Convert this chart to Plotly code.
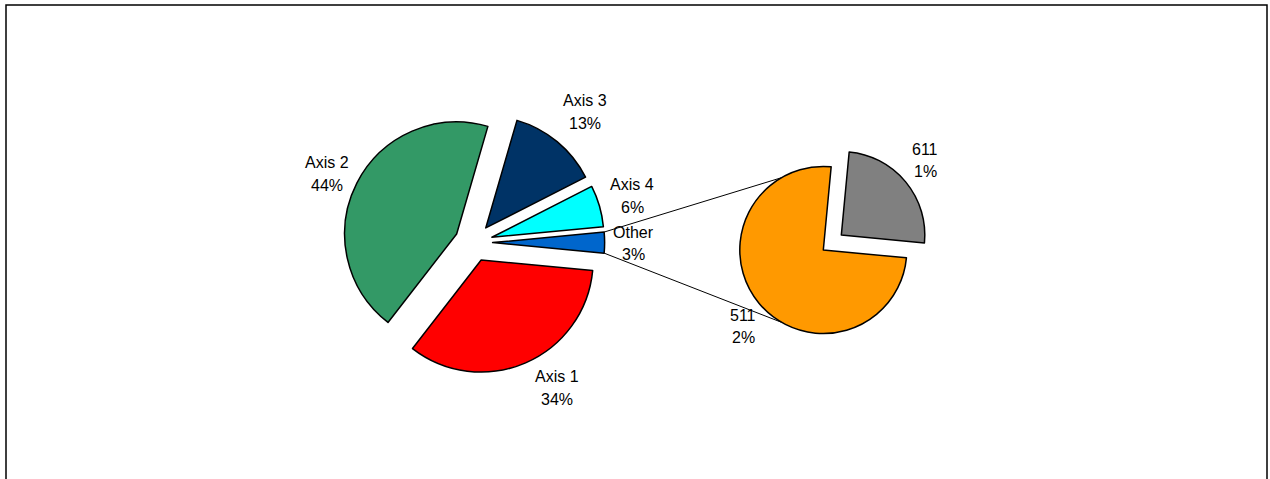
import math
import plotly.graph_objects as go

# ---- data ----
main_labels = ["Axis 1", "Axis 2", "Axis 3", "Axis 4"]
main_values = [34, 44, 13, 6]
other_label = "Other"
sub_labels = ["511", "611"]
sub_values = [2.25, 0.75]

main_colors = ["#FF0000", "#339966", "#003366", "#00FFFF", "#0066CC"]
sub_colors = ["#FF9900", "#808080"]

# ---- layout geometry (pixels) ----
W, H = 1270, 479
MAIN_C = (473.6, 242.6)
MAIN_R = 112.0
MAIN_PULL = 0.17
SUB_C = (823.3, 250.0)
SUB_R = 83.5
SUB_PULL = 0.28
FONT = dict(family="Arial, Liberation Sans, sans-serif", size=16, color="black")
LINE_GAP = 11.3
# small label placement nudges (px), mimicking the original label layout
LABEL_NUDGE = {"Axis 1": (18, -6), "Axis 2": (0.5, 6.5), "Axis 3": (6, -3.5),
               "Axis 4": (0, -0.5), "Other": (-5, 1), "611": (-2, -3.5), "511": (6, 5.5)}

other_value = sum(sub_values)
all_main_values = main_values + [other_value]
all_main_labels = main_labels + [other_label]
total = sum(all_main_values)
other_deg = other_value / total * 360.0
rotation = 90 + other_deg / 2  # "Other" centred at 3 o'clock


def px2paper(x, y):
    return x / W, 1 - y / H


def polar(c, r, deg):
    return c[0] + r * math.cos(math.radians(deg)), c[1] - r * math.sin(math.radians(deg))


def domain(c, r, pull):
    half = r * (1 + pull)
    return dict(x=[(c[0] - half) / W, (c[0] + half) / W],
                y=[1 - (c[1] + half) / H, 1 - (c[1] - half) / H])


def mid_angles(values, rot):
    # math-angle (ccw from +x) mid-point of each clockwise slice
    tot = sum(values)
    a = 90 - rot
    mids = []
    for v in values:
        span = v / tot * 360
        mids.append(a - span / 2)
        a -= span
    return mids


fig = go.Figure()
fig.add_trace(go.Pie(
    labels=all_main_labels, values=all_main_values, sort=False,
    direction="clockwise", rotation=rotation,
    pull=[MAIN_PULL] * len(all_main_values),
    marker=dict(colors=main_colors, line=dict(color="black", width=1.5)),
    textinfo="none", hoverinfo="skip", showlegend=False,
    domain=domain(MAIN_C, MAIN_R, MAIN_PULL)))

sub_pulls = [0, SUB_PULL]
fig.add_trace(go.Pie(
    labels=sub_labels, values=sub_values, sort=False,
    direction="clockwise", rotation=rotation,
    pull=sub_pulls,
    marker=dict(colors=sub_colors, line=dict(color="black", width=1.5)),
    textinfo="none", hoverinfo="skip", showlegend=False,
    domain=domain(SUB_C, SUB_R, SUB_PULL)))

annotations = []


def add_label(c, dist, ang, name, pct):
    x, y = polar(c, dist, ang)
    nx, ny = LABEL_NUDGE.get(name, (0, 0))
    x, y = x + nx, y + ny
    for dy, txt in ((-LINE_GAP, name), (LINE_GAP, pct)):
        px, py = px2paper(x, y + dy)
        annotations.append(dict(x=px, y=py, xref="paper", yref="paper", text=txt,
                                showarrow=False, font=FONT, xanchor="center", yanchor="middle"))


for lab, v, ang in zip(all_main_labels, all_main_values, mid_angles(all_main_values, rotation)):
    add_label(MAIN_C, MAIN_R * (1 + MAIN_PULL) + 34, ang, lab, f"{v / total * 100:.0f}%")

for lab, v, p, ang in zip(sub_labels, sub_values, sub_pulls, mid_angles(sub_values, rotation)):
    add_label(SUB_C, SUB_R * (1 + p) + 28, ang, lab, f"{v / total * 100:.0f}%")

shapes = []
# connector lines from "Other" slice to the secondary pie
other_vertex = polar(MAIN_C, MAIN_R * MAIN_PULL, 0)
for sgn in (1, -1):
    p0 = polar(other_vertex, MAIN_R, sgn * other_deg / 2)
    p1 = polar(SUB_C, SUB_R, sgn * 120)
    x0, y0 = px2paper(*p0)
    x1, y1 = px2paper(*p1)
    shapes.append(dict(type="line", xref="paper", yref="paper", x0=x0, y0=y0, x1=x1, y1=y1,
                       line=dict(color="black", width=1), layer="below"))

# chart border
bx0, by1 = px2paper(6, 5)
bx1, _ = px2paper(1267, 0)
shapes.append(dict(type="rect", xref="paper", yref="paper", x0=bx0, x1=bx1, y0=-0.2, y1=by1,
                   line=dict(color="black", width=1.5), fillcolor="rgba(0,0,0,0)"))

fig.update_layout(width=W, height=H, margin=dict(l=0, r=0, t=0, b=0),
                  paper_bgcolor="white", plot_bgcolor="white",
                  annotations=annotations, shapes=shapes)

fig.write_html("out.html", config={"displayModeBar": False},
               post_script="document.body.style.margin='0';document.body.style.overflow='hidden';")
